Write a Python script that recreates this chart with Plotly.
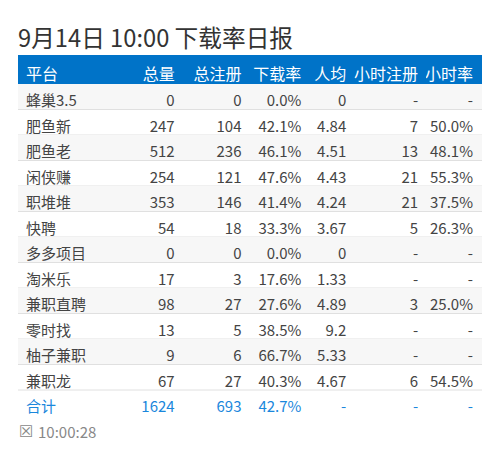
# -*- coding: utf-8 -*-
import plotly.graph_objects as go

# --- Datos de la tabla ---
titulo = "9月14日 10:00 下载率日报"
icono = "☒"
hora = "10:00:28"
encabezados = ["平台", "总量", "总注册", "下载率", "人均", "小时注册", "小时率"]

plataformas = ["蜂巢3.5", "肥鱼新", "肥鱼老", "闲侠赚", "职堆堆", "快聘", "多多项目",
               "淘米乐", "兼职直聘", "零时找", "柚子兼职", "兼职龙", "合计"]
total = ["0", "247", "512", "254", "353", "54", "0", "17", "98", "13", "9", "67", "1624"]
registros = ["0", "104", "236", "121", "146", "18", "0", "3", "27", "5", "6", "27", "693"]
tasa = ["0.0%", "42.1%", "46.1%", "47.6%", "41.4%", "33.3%", "0.0%", "17.6%", "27.6%",
        "38.5%", "66.7%", "40.3%", "42.7%"]
promedio = ["0", "4.84", "4.51", "4.43", "4.24", "3.67", "0", "1.33", "4.89", "9.2",
            "5.33", "4.67", "-"]
reg_hora = ["-", "7", "13", "21", "21", "5", "-", "-", "3", "-", "-", "6", "-"]
tasa_hora = ["-", "50.0%", "48.1%", "55.3%", "37.5%", "26.3%", "-", "-", "25.0%", "-",
             "-", "54.5%", "-"]

columnas = [plataformas, total, registros, tasa, promedio, reg_hora, tasa_hora]
anchos_col = [100, 65, 67, 60, 45, 72, 55]

FUENTE = "Noto Sans CJK SC"
AZUL = "#0073c8"
AZUL_TEXTO = "#1a87dc"
GRIS_TEXTO = "#444444"
LINEA = "#e0e0e0"

# La página deja 8 px de margen alrededor de la figura
MARGEN = 8
ANCHO, ALTO = 484, 449
IZQ, DER = 18, 482
ARRIBA = 55
ALTO_ENC = 29
ALTO_FILA = 25.5
# El texto de la tabla va más abajo que en plotly, se desplaza la tabla entera
BAJA_ENC = 5
BAJA_FILA = 3


def px(x):
    return (x - MARGEN) / ANCHO


def py(y):
    return 1 - (y - MARGEN) / ALTO


n = len(plataformas)
base = ARRIBA + ALTO_ENC
abajo = base + ALTO_FILA * n
color_texto = [GRIS_TEXTO] * (n - 1) + [AZUL_TEXTO]

fig = go.Figure(go.Table(
    columnwidth=anchos_col,
    domain=dict(x=[px(IZQ), px(DER)], y=[py(abajo + BAJA_FILA), py(ARRIBA + BAJA_ENC)]),
    header=dict(
        values=encabezados,
        align=["left"] + ["right"] * 6,
        fill_color="rgba(0,0,0,0)",
        line_width=0,
        height=ALTO_ENC - BAJA_ENC + BAJA_FILA,
        font=dict(family=FUENTE, size=16, color="white"),
    ),
    cells=dict(
        values=columnas,
        align=["left"] + ["right"] * 6,
        fill_color="rgba(0,0,0,0)",
        line_width=0,
        height=ALTO_FILA,
        font=dict(family=FUENTE, size=15, color=[color_texto] * 7),
    ),
))


def franja(y0, y1, color):
    fig.add_shape(type="rect", xref="paper", yref="paper", layer="below",
                  x0=px(IZQ), x1=px(DER), y0=py(y0), y1=py(y1),
                  fillcolor=color, line_width=0)


# Encabezado azul, filas alternas en gris y líneas separadoras
franja(ARRIBA, base, AZUL)
for i in range(n - 1):
    y0 = base + ALTO_FILA * i
    if i % 2 == 0:
        franja(y0, y0 + ALTO_FILA, "#f7f7f7")
    fig.add_shape(type="line", xref="paper", yref="paper", layer="below",
                  x0=px(IZQ), x1=px(DER), y0=py(y0 + ALTO_FILA), y1=py(y0 + ALTO_FILA),
                  line=dict(color=LINEA, width=1))

fig.add_annotation(text=titulo, xref="paper", yref="paper", x=px(18), y=py(37),
                   xanchor="left", yanchor="middle", showarrow=False, xshift=-2,
                   font=dict(family=FUENTE, size=23.7, color="#333333"))
fig.add_annotation(text=icono, xref="paper", yref="paper", x=px(26), y=py(431),
                   xanchor="center", yanchor="middle", showarrow=False,
                   font=dict(family="DejaVu Sans", size=16, color="#888888"))
fig.add_annotation(text=hora, xref="paper", yref="paper", x=px(38), y=py(431),
                   xanchor="left", yanchor="middle", showarrow=False, xshift=-2,
                   font=dict(family=FUENTE, size=15, color="#888888"))

fig.update_layout(width=ANCHO, height=ALTO, margin=dict(l=0, r=0, t=0, b=0),
                  paper_bgcolor="white")

fig.write_html("out.html")
